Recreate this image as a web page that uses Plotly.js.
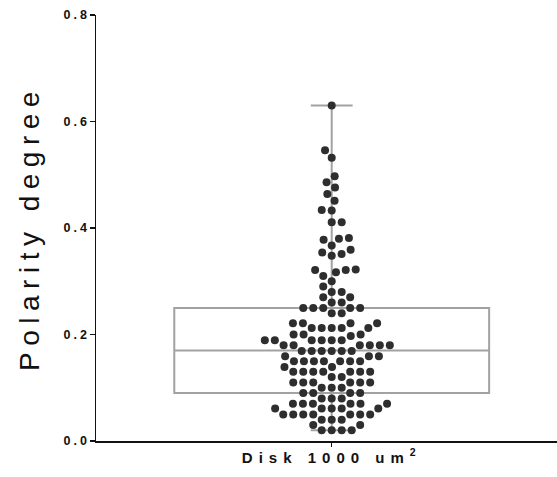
<!DOCTYPE html>
<html>
<head>
<meta charset="utf-8">
<script src="https://cdn.plot.ly/plotly-3.0.1.min.js"></script>
<style>
  html, body { margin: 0; padding: 0; background: #fff; }
  #chart { width: 557px; height: 477px; }
  .ytick text { letter-spacing: 3px; }
  .ytitle { letter-spacing: 6.5px; }
  .xtick text { letter-spacing: 6px; }
</style>
</head>
<body>
<div id="chart"></div>
<script>
// ---- data ----
const categoryLabel = 'Disk 1000 um<sup>2</sup>';
const polarityValues = [
  0.630, 0.546, 0.532, 0.497, 0.486, 0.476, 0.464, 0.451,
  0.434, 0.433,
  0.411, 0.411,
  0.381, 0.380, 0.378,
  0.367, 0.359,
  0.354, 0.351, 0.348,
  0.322, 0.321, 0.321, 0.317,
  0.310, 0.300, 0.290,
  0.280, 0.280,
  0.270, 0.270,
  0.260, 0.260,
  0.250, 0.250, 0.250, 0.250, 0.250,
  0.240, 0.240,
  0.221, 0.221, 0.221, 0.221,
  0.212, 0.212, 0.212, 0.212, 0.212,
  0.200, 0.200, 0.200, 0.197,
  0.189, 0.189, 0.189, 0.189, 0.189, 0.189,
  0.180, 0.180, 0.180, 0.180, 0.180, 0.180,
  0.169, 0.169, 0.169, 0.169, 0.169, 0.169,
  0.159, 0.159, 0.159,
  0.150, 0.150, 0.150, 0.150, 0.150, 0.150, 0.150,
  0.139, 0.139,
  0.130, 0.130, 0.130, 0.130, 0.130, 0.130, 0.130,
  0.120, 0.120,
  0.110, 0.110, 0.110, 0.110, 0.110, 0.110,
  0.100, 0.100, 0.100,
  0.090, 0.090, 0.090, 0.090,
  0.080, 0.080, 0.080,
  0.070, 0.070, 0.070, 0.070, 0.070, 0.070,
  0.061, 0.061, 0.061, 0.061, 0.061,
  0.050, 0.050, 0.050, 0.050, 0.050, 0.050, 0.050,
  0.040, 0.040, 0.040,
  0.030, 0.030,
  0.020, 0.020, 0.020, 0.020
];
// box summary (min-to-max whiskers)
const boxMin = [0.02];
const boxQ1 = [0.09];
const boxMedian = [0.17];
const boxQ3 = [0.25];
const boxMax = [0.63];
const yTickVals = [0, 0.2, 0.4, 0.6, 0.8];

// ---- layout geometry ----
const W = 557, H = 477;
const margin = { l: 96, r: 0, t: 15, b: 36 };
const xRange = [-0.5113, 0.4887];
const yRange = [0, 0.8];
const plotW = W - margin.l - margin.r;
const plotH = H - margin.t - margin.b;
const pxPerX = plotW / (xRange[1] - xRange[0]);
const pxPerY = plotH / (yRange[1] - yRange[0]);

// beeswarm placement (collision based, in pixel space)
function beeswarm(vals, d) {
  const order = vals.map((v, i) => i).sort((a, b) => vals[a] - vals[b]);
  const placed = [];
  const xs = new Array(vals.length);
  let side = 1;
  for (const i of order) {
    const py = vals[i] * pxPerY;
    const near = placed.filter(p => Math.abs(p.y - py) < d);
    const cands = [0];
    for (const p of near) {
      const dx = Math.sqrt(d * d - (p.y - py) * (p.y - py));
      cands.push(p.x + dx, p.x - dx);
    }
    cands.sort((a, b) => (Math.abs(a) - Math.abs(b)) || (side * (b - a)));
    let best = 0;
    for (const c of cands) {
      if (near.every(p => (p.x - c) * (p.x - c) + (p.y - py) * (p.y - py) >= d * d - 1e-6)) { best = c; break; }
    }
    if (best !== 0) side = -side;
    placed.push({ x: best, y: py });
    xs[i] = best / pxPerX;
  }
  return xs;
}
const swarmX = beeswarm(polarityValues, 10);

const boxTrace = {
  type: 'box',
  x: [0],
  q1: boxQ1, median: boxMedian, q3: boxQ3,
  lowerfence: boxMin, upperfence: boxMax,
  width: 0.683,
  whiskerwidth: 0.133,
  boxpoints: false,
  fillcolor: 'rgba(0,0,0,0)',
  line: { color: '#a2a2a6', width: 2 },
  hoverinfo: 'skip',
  showlegend: false
};
const dotTrace = {
  type: 'scatter',
  mode: 'markers',
  x: swarmX,
  y: polarityValues,
  marker: { color: '#2e2e2e', size: 8 },
  cliponaxis: false,
  showlegend: false
};

const layout = {
  width: W, height: H,
  margin: margin,
  paper_bgcolor: '#fff', plot_bgcolor: '#fff',
  font: { family: 'Arial, "Liberation Sans", sans-serif', color: '#111' },
  showlegend: false,
  xaxis: {
    range: xRange,
    tickvals: [0], ticktext: [categoryLabel],
    ticks: 'outside', ticklen: 4, tickwidth: 1.5, tickcolor: '#111',
    showline: true, linecolor: '#111', linewidth: 1.5,
    showgrid: false, zeroline: false,
    ticklabelstandoff: -2,
    tickfont: { size: 15, weight: 'bold', color: '#111' }
  },
  yaxis: {
    range: yRange,
    tickvals: yTickVals, tickformat: '.1f',
    ticks: 'outside', ticklen: 5, tickwidth: 1.5, tickcolor: '#111',
    showline: true, linecolor: '#111', linewidth: 1.5,
    showgrid: false, zeroline: false,
    ticklabelstandoff: -3,
    tickfont: { size: 12.5, weight: 'bold', color: '#111' },
    title: { text: 'Polarity degree', font: { size: 28, color: '#111' }, standoff: 16 }
  }
};

Plotly.newPlot('chart', [boxTrace, dotTrace], layout, { staticPlot: true, displayModeBar: false });
</script>
</body>
</html>
